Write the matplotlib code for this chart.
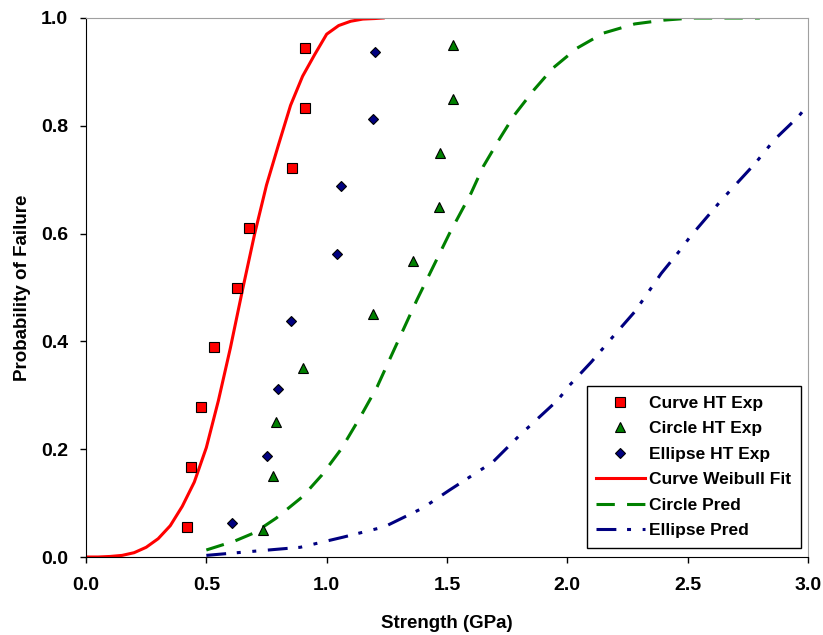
import matplotlib
matplotlib.use("Agg")
import matplotlib.pyplot as plt

plt.rcParams['font.family'] = ['Liberation Sans', 'DejaVu Sans']

# Experimental data
curve_x = [0.418, 0.437, 0.477, 0.532, 0.627, 0.679, 0.857, 0.908, 0.908]
curve_y = [0.056, 0.167, 0.278, 0.389, 0.500, 0.611, 0.722, 0.833, 0.944]

circle_x = [0.735, 0.779, 0.789, 0.902, 1.194, 1.357, 1.467, 1.469, 1.526, 1.526]
circle_y = [0.05, 0.15, 0.25, 0.35, 0.45, 0.55, 0.65, 0.75, 0.85, 0.95]

ellipse_x = [0.608, 0.751, 0.797, 0.851, 1.042, 1.058, 1.191, 1.202]
ellipse_y = [0.0625, 0.1875, 0.3125, 0.4375, 0.5625, 0.6875, 0.8125, 0.9375]

# Curves
fit_x = [0.00, 0.05, 0.10, 0.15, 0.20, 0.25, 0.30, 0.35, 0.40, 0.45, 0.50, 0.55,
         0.60, 0.65, 0.70, 0.75, 0.80, 0.85, 0.90, 0.95, 1.00, 1.05, 1.10, 1.15,
         1.20, 1.235]
fit_y = [0.000, 0.000, 0.001, 0.003, 0.008, 0.018, 0.034, 0.058, 0.094, 0.139,
         0.203, 0.290, 0.388, 0.495, 0.598, 0.690, 0.765, 0.838, 0.892, 0.932,
         0.970, 0.986, 0.994, 0.998, 0.999, 1.000]

cpred_x = [0.50, 0.62, 0.70, 0.79, 0.90, 0.98, 1.06, 1.14, 1.21, 1.26, 1.375,
           1.51, 1.60, 1.65, 1.72, 1.78, 1.86, 1.94, 2.04, 2.15, 2.28, 2.40,
           2.52, 2.80]
cpred_y = [0.013, 0.030, 0.045, 0.072, 0.112, 0.152, 0.200, 0.260, 0.316,
           0.365, 0.477, 0.600, 0.675, 0.724, 0.777, 0.820, 0.866, 0.907,
           0.944, 0.972, 0.989, 0.996, 1.000, 1.000]

epred_x = [0.50, 0.68, 0.89, 1.07, 1.24, 1.40, 1.51, 1.69, 1.80, 1.96, 2.01,
           2.10, 2.19, 2.28, 2.39, 2.47, 2.51, 2.64, 2.78, 2.86, 2.96, 3.00]
epred_y = [0.003, 0.010, 0.018, 0.037, 0.056, 0.091, 0.124, 0.176, 0.225,
           0.291, 0.319, 0.362, 0.409, 0.455, 0.526, 0.570, 0.594, 0.662,
           0.730, 0.774, 0.817, 0.839]

x_ticks = [0.0, 0.5, 1.0, 1.5, 2.0, 2.5, 3.0]
y_ticks = [0.0, 0.2, 0.4, 0.6, 0.8, 1.0]

fig = plt.figure(figsize=(8.23, 6.35), dpi=100)
ax = fig.add_axes([86/823, 1-557/635, 722/823, 539/635])

ax.plot(curve_x, curve_y, linestyle='none', marker='s', ms=6.5,
        mfc='#FF0000', mec='black', mew=0.8, label='Curve HT Exp', zorder=5)
ax.plot(circle_x, circle_y, linestyle='none', marker='^', ms=7.5,
        mfc='#008000', mec='black', mew=0.8, label='Circle HT Exp', zorder=5)
ax.plot(ellipse_x, ellipse_y, linestyle='none', marker='D', ms=5,
        mfc='#000080', mec='black', mew=0.8, label='Ellipse HT Exp', zorder=5)
ax.plot(fit_x, fit_y, color='#FF0000', lw=2.2, label='Curve Weibull Fit',
        solid_joinstyle='round')
ax.plot(cpred_x, cpred_y, color='#008000', lw=2.2, dashes=(6, 4),
        label='Circle Pred')
ax.plot(epred_x, epred_y, color='#000080', lw=2.2,
        dashes=(6.5, 3.5, 1.3, 3.8, 1.3, 3.8), label='Ellipse Pred')

ax.set_xlim(0, 3.0)
ax.set_ylim(0, 1.0)
ax.set_xticks(x_ticks)
ax.set_yticks(y_ticks)
ax.set_xticklabels([f'{v:.1f}' for v in x_ticks], fontsize=14, fontweight='bold')
ax.set_yticklabels([f'{v:.1f}' for v in y_ticks], fontsize=14, fontweight='bold')
ax.tick_params(direction='out', length=4.3, width=1)
ax.tick_params(axis='x', pad=10)
ax.tick_params(axis='y', pad=8.6)

for s in ['top', 'right']:
    ax.spines[s].set_color('#A0A0A0')
for s in ['left', 'bottom']:
    ax.spines[s].set_color('black')

ax.set_xlabel('Strength (GPa)', fontsize=13.5, fontweight='bold', labelpad=15)
ax.set_ylabel('Probability of Failure', fontsize=13.5, fontweight='bold', labelpad=7)

leg = ax.legend(loc='lower right', bbox_to_anchor=(0.990, 0.0167),
                prop={'size': 12.5, 'weight': 'bold'}, frameon=True,
                fancybox=False, edgecolor='black', framealpha=1,
                handlelength=2.8, handletextpad=0.25, labelspacing=0.6,
                borderpad=0.55, borderaxespad=0)
leg.get_frame().set_linewidth(1.0)

fig.savefig('out.png', dpi=100)
